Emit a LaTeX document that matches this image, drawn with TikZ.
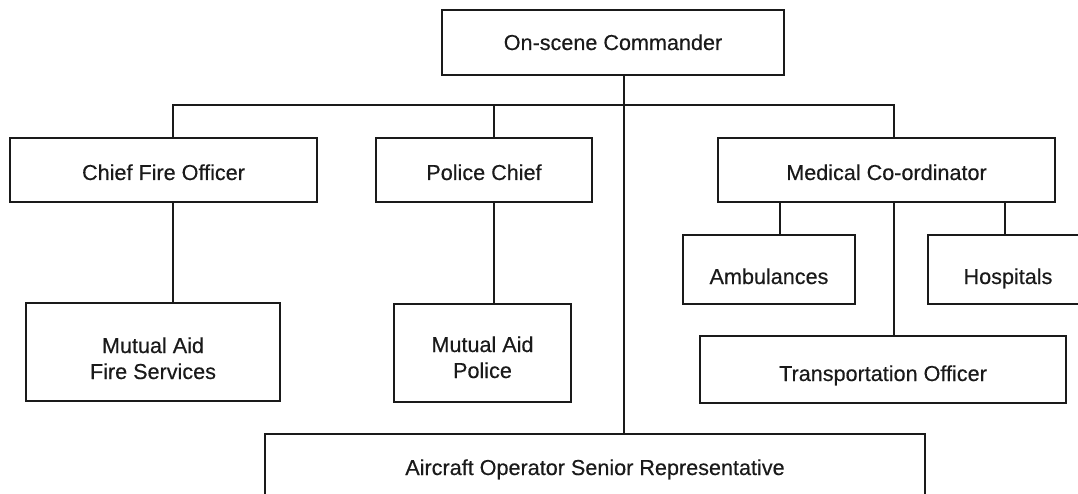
\documentclass[tikz,border=0pt]{standalone}
\usepackage{fontspec}
\setmainfont{Liberation Sans}[FakeBold=0.35]
\definecolor{ink}{HTML}{1A1A1A}
\begin{document}
\begin{tikzpicture}[x=1pt,y=-1pt,
  line width=1.6pt, draw=ink,
  orgbox/.style={draw=ink, fill=white, rectangle, inner sep=0pt, outer sep=0pt,
    text=ink, font=\fontsize{21.6}{26}\selectfont, text depth=0pt},
  conn/.style={draw=ink, line width=1.6pt}]
\useasboundingbox (0,0) rectangle (1078,494);
\clip (0,0) rectangle (1078,494);
\fill[white] (0,0) rectangle (1078,494);

% boxes
\node[orgbox, minimum width=342pt, minimum height=65pt, text height=15pt] (cmd) at (613,42.5) {On-scene Commander};
\node[orgbox, minimum width=307pt, minimum height=64pt, text height=20pt] (cfo) at (163.5,170) {Chief Fire Officer};
\node[orgbox, minimum width=216pt, minimum height=64pt, text height=20pt] (pol) at (484,170) {Police Chief};
\node[orgbox, minimum width=337pt, minimum height=64pt, text height=20pt] (med) at (886.5,170) {Medical Co-ordinator};
\node[orgbox, minimum width=172pt, minimum height=69pt, text height=29pt] (amb) at (769,269.5) {Ambulances};
\node[orgbox, minimum width=160pt, minimum height=69pt, text height=29pt] (hos) at (1008,269.5) {Hospitals};
\node[orgbox, minimum width=366pt, minimum height=67pt, text height=23pt] (tra) at (883,369.5) {Transportation Officer};
\node[orgbox, minimum width=660pt, minimum height=66pt, text height=16pt] (air) at (595,467) {Aircraft Operator Senior Representative};
\node[orgbox, minimum width=254pt, minimum height=98pt, text height=54pt] (maf) at (153,352) {\begin{tabular}[b]{@{}c@{}}Mutual Aid\\Fire Services\end{tabular}};
\node[orgbox, minimum width=177pt, minimum height=98pt, text height=50pt] (map) at (482.5,353) {\begin{tabular}[b]{@{}c@{}}Mutual Aid\\Police\end{tabular}};

% connector positions
\coordinate (xcmd) at (624,0);
\coordinate (xcfo) at (173,0);
\coordinate (xpol) at (494,0);
\coordinate (xmed) at (894,0);
\coordinate (xamb) at (780,0);
\coordinate (xhos) at (1005,0);
\coordinate (bus) at (0,105);

% connectors
\draw[conn] (xcmd |- cmd.south) -- (xcmd |- air.north);
\draw[conn] (xcfo |- cfo.north) -- (xcfo |- bus) -- (xmed |- bus) -- (xmed |- med.north);
\draw[conn] (xpol |- bus) -- (xpol |- pol.north);
\draw[conn] (xcfo |- cfo.south) -- (xcfo |- maf.north);
\draw[conn] (xpol |- pol.south) -- (xpol |- map.north);
\draw[conn] (xamb |- med.south) -- (xamb |- amb.north);
\draw[conn] (xmed |- med.south) -- (xmed |- tra.north);
\draw[conn] (xhos |- med.south) -- (xhos |- hos.north);
\end{tikzpicture}
\end{document}
